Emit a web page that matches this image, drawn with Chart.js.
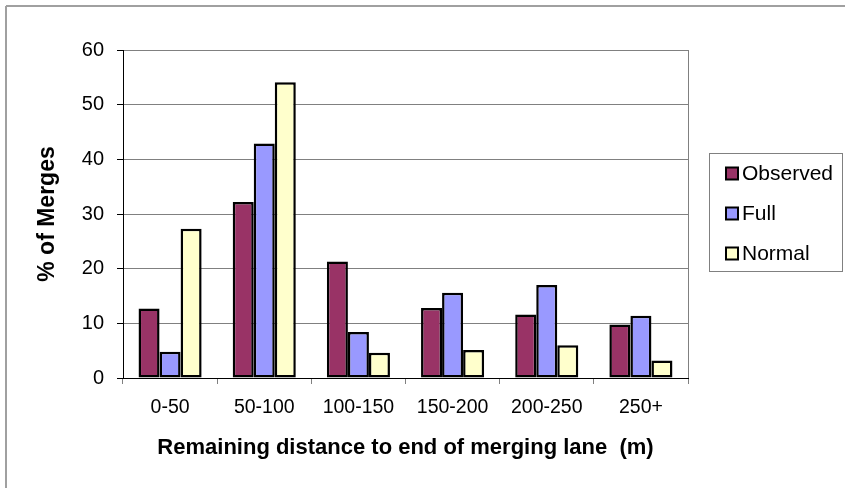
<!DOCTYPE html>
<html>
<head>
<meta charset="utf-8">
<style>
  html, body { margin: 0; padding: 0; background: #ffffff; }
  #wrap { width: 845px; height: 488px; }
</style>
<script src="https://cdn.jsdelivr.net/npm/chart.js@4/dist/chart.umd.min.js"></script>
</head>
<body>
<div id="wrap"><canvas id="chart" width="845" height="488"></canvas></div>
<script>
// Share of merges by remaining distance to the end of the merging lane
const categories = ['0-50', '50-100', '100-150', '150-200', '200-250', '250+'];
const observed = [12.7, 32.2, 21.3, 12.8, 11.6, 9.8];
const full     = [4.8, 42.9, 8.4, 15.6, 17.0, 11.4];
const normal   = [27.3, 54.1, 4.6, 5.1, 6.0, 3.2];
const seriesNames = ['Observed', 'Full', 'Normal'];
const yTicks = [0, 10, 20, 30, 40, 50, 60];

const FONT = '"Liberation Sans", Arial, Helvetica, sans-serif';

// Outer frame and plot-area right edge
const framePlugin = {
  id: 'frame',
  beforeDraw(chart) {
    const ctx = chart.ctx;
    ctx.save();
    ctx.fillStyle = '#ffffff';
    ctx.fillRect(0, 0, chart.width, chart.height);
    ctx.strokeStyle = '#a0a0a0';
    ctx.lineWidth = 2;
    ctx.beginPath();
    ctx.moveTo(6, 6);
    ctx.lineTo(chart.width, 6);
    ctx.moveTo(6, 6);
    ctx.lineTo(6, chart.height);
    ctx.stroke();
    ctx.restore();
  },
  afterDraw(chart) {
    const a = chart.chartArea;
    const ctx = chart.ctx;
    ctx.save();
    ctx.strokeStyle = '#808080';
    ctx.lineWidth = 1;
    ctx.beginPath();
    ctx.moveTo(Math.round(a.right) + 0.5, a.top);
    ctx.lineTo(Math.round(a.right) + 0.5, a.bottom);
    ctx.stroke();
    ctx.restore();
  }
};

// Boxed legend at the right of the plot
const boxLegend = {
  id: 'boxLegend',
  afterDraw(chart) {
    const ctx = chart.ctx;
    const box = { x: 709.5, y: 153.5, w: 133, h: 118 };
    ctx.save();
    ctx.strokeStyle = '#808080';
    ctx.lineWidth = 1;
    ctx.strokeRect(box.x, box.y, box.w, box.h);
    ctx.font = '21px ' + FONT;
    ctx.textBaseline = 'middle';
    ctx.textAlign = 'left';
    chart.data.datasets.forEach((ds, i) => {
      const cy = 173.5 + i * 40;
      ctx.fillStyle = ds.backgroundColor;
      ctx.fillRect(726, cy - 6, 12, 12);
      ctx.strokeStyle = '#000000';
      ctx.lineWidth = 2;
      ctx.strokeRect(726, cy - 6, 12, 12);
      ctx.fillStyle = '#000000';
      ctx.fillText(ds.label, 742, cy + 1);
    });
    ctx.restore();
  }
};

const colors = ['#993366', '#9999ff', '#ffffcc'];
const seriesData = [observed, full, normal];

new Chart(document.getElementById('chart'), {
  type: 'bar',
  data: {
    labels: categories,
    datasets: seriesNames.map((name, i) => ({
      label: name,
      data: seriesData[i],
      backgroundColor: colors[i],
      borderColor: '#000000',
      borderWidth: 2.5,
      borderSkipped: false,
      barPercentage: 1.0,
      categoryPercentage: 0.67
    }))
  },
  options: {
    responsive: false,
    animation: false,
    devicePixelRatio: 1,
    layout: { padding: { left: 0, top: 50, right: 157, bottom: 0 } },
    plugins: {
      legend: { display: false },
      tooltip: { enabled: false }
    },
    scales: {
      y: {
        min: 0,
        max: 60,
        afterBuildTicks(scale) {
          scale.ticks = yTicks.map(v => ({ value: v }));
        },
        afterFit(scale) { scale.width = 123; },
        ticks: {
          color: '#000000',
          font: { family: FONT, size: 20 },
          padding: 13
        },
        grid: {
          color: '#808080',
          lineWidth: 1,
          tickColor: '#000000',
          tickLength: 6
        },
        border: { color: '#000000', width: 1 },
        title: {
          display: true,
          text: '% of Merges',
          color: '#000000',
          font: { family: FONT, size: 23, weight: 'bold' },
          padding: { top: 34, bottom: 0 }
        }
      },
      x: {
        afterFit(scale) { scale.height = 110; },
        ticks: {
          color: '#000000',
          font: { family: FONT, size: 19.5 },
          padding: 12,
          maxRotation: 0
        },
        grid: {
          offset: true,
          drawOnChartArea: false,
          tickColor: '#808080',
          tickLength: 6
        },
        border: { color: '#000000', width: 1 },
        title: {
          display: true,
          text: 'Remaining distance to end of merging lane  (m)',
          color: '#000000',
          font: { family: FONT, size: 22, weight: 'bold' },
          padding: { top: 0, bottom: 27 }
        }
      }
    }
  },
  plugins: [framePlugin, boxLegend]
});
</script>
</body>
</html>
